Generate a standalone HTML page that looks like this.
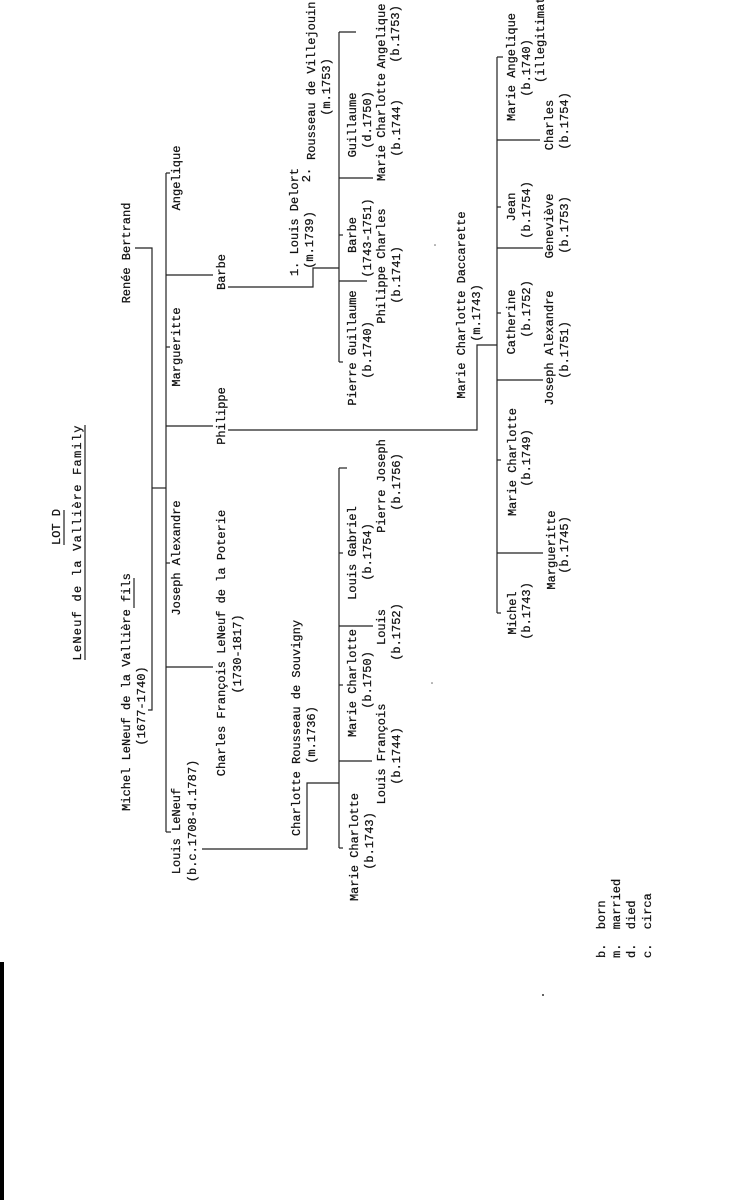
<!DOCTYPE html>
<html><head><meta charset="utf-8"><style>
html,body{margin:0;padding:0;background:#fff;}
svg{display:block;}
text{font-family:"Liberation Mono",monospace;font-size:12px;fill:#111;stroke:#111;stroke-width:0.25;dominant-baseline:central;text-anchor:middle;}
line,polyline{stroke:#222;stroke-width:1.2;fill:none;}
</style></head><body>
<svg width="745" height="1200" viewBox="0 0 745 1200" xmlns="http://www.w3.org/2000/svg">
<rect x="0" y="962" width="4" height="238" fill="#000"/>
<!-- Titles -->
<text transform="translate(57,527) rotate(-90)">LOT D</text>
<line x1="64" y1="545" x2="64" y2="510"/>
<text transform="translate(78,543) rotate(-90)" textLength="235" lengthAdjust="spacing">LeNeuf de la Vallière Family</text>
<line x1="85" y1="660" x2="85" y2="425"/>
<text transform="translate(127,692) rotate(-90)">Michel LeNeuf de la Vallière fils</text>
<line x1="134" y1="608" x2="134" y2="578"/>
<text transform="translate(142,706) rotate(-90)">(1677-1740)</text>
<text transform="translate(127,253) rotate(-90)">Renée Bertrand</text>

<!-- generation 1 lines -->
<polyline points="135,248 152,248 152,710 148,710"/>
<line x1="152" y1="488" x2="166" y2="488"/>
<line x1="166" y1="173" x2="166" y2="832"/>
<line x1="166" y1="173" x2="170" y2="173"/>
<line x1="166" y1="275" x2="213" y2="275"/>
<line x1="166" y1="347" x2="170" y2="347"/>
<line x1="166" y1="426" x2="213" y2="426"/>
<line x1="166" y1="563" x2="170" y2="563"/>
<line x1="166" y1="667" x2="213" y2="667"/>
<line x1="166" y1="832" x2="171" y2="832"/>

<text transform="translate(177,178) rotate(-90)">Angelique</text>
<text transform="translate(177,347) rotate(-90)">Margueritte</text>
<text transform="translate(177,558) rotate(-90)">Joseph Alexandre</text>
<text transform="translate(177,831) rotate(-90)">Louis LeNeuf</text>
<text transform="translate(193,821) rotate(-90)">(b.c.1708-d.1787)</text>
<text transform="translate(222,272) rotate(-90)">Barbe</text>
<text transform="translate(222,416) rotate(-90)">Philippe</text>
<text transform="translate(222,643) rotate(-90)">Charles François LeNeuf de la Poterie</text>
<text transform="translate(238,654) rotate(-90)">(1730-1817)</text>

<!-- Barbe branch -->
<polyline points="228,287 313,287 313,268 339,268"/>
<text transform="translate(295,222) rotate(-90)">1. Louis Delort</text>
<text transform="translate(310,240) rotate(-90)">(m.1739)</text>
<text transform="translate(307,175) rotate(-90)">2.</text>
<text transform="translate(312,160) rotate(-90)" style="text-anchor:start">Rousseau de Villejouin</text>
<text transform="translate(327,87) rotate(-90)">(m.1753)</text>
<line x1="339" y1="32" x2="339" y2="362"/>
<line x1="339" y1="32" x2="356" y2="32"/>
<line x1="339" y1="178" x2="373" y2="178"/>
<line x1="339" y1="235" x2="343" y2="235"/>
<line x1="339" y1="281" x2="367" y2="281"/>
<line x1="339" y1="362" x2="343" y2="362"/>
<text transform="translate(353,125) rotate(-90)">Guillaume</text>
<text transform="translate(368,120) rotate(-90)">(d.1750)</text>
<text transform="translate(382,36) rotate(-90)">Angelique</text>
<text transform="translate(396,34) rotate(-90)">(b.1753)</text>
<text transform="translate(382,127) rotate(-90)">Marie Charlotte</text>
<text transform="translate(397,128) rotate(-90)">(b.1744)</text>
<text transform="translate(353,235) rotate(-90)">Barbe</text>
<text transform="translate(368,238) rotate(-90)">(1743-1751)</text>
<text transform="translate(382,266) rotate(-90)">Philippe Charles</text>
<text transform="translate(397,275) rotate(-90)">(b.1741)</text>
<text transform="translate(353,348) rotate(-90)">Pierre Guillaume</text>
<text transform="translate(368,350) rotate(-90)">(b.1740)</text>

<!-- Philippe branch -->
<polyline points="228,430 477,430 477,345 497,345"/>
<text transform="translate(462,305) rotate(-90)">Marie Charlotte Daccarette</text>
<text transform="translate(477,313) rotate(-90)">(m.1743)</text>
<line x1="497" y1="57" x2="497" y2="613"/>
<line x1="497" y1="57" x2="503" y2="57"/>
<line x1="497" y1="140" x2="540" y2="140"/>
<line x1="497" y1="207" x2="501" y2="207"/>
<line x1="497" y1="248" x2="543" y2="248"/>
<line x1="497" y1="313" x2="501" y2="313"/>
<line x1="497" y1="380" x2="543" y2="380"/>
<line x1="497" y1="460" x2="501" y2="460"/>
<line x1="497" y1="553" x2="543" y2="553"/>
<line x1="497" y1="613" x2="501" y2="613"/>
<text transform="translate(512,67) rotate(-90)">Marie Angelique</text>
<text transform="translate(527,68) rotate(-90)">(b.1740)</text>
<text transform="translate(541,83) rotate(-90)" style="text-anchor:start">(illegitimate)</text>
<text transform="translate(512,207) rotate(-90)">Jean</text>
<text transform="translate(527,210) rotate(-90)">(b.1754)</text>
<text transform="translate(512,322) rotate(-90)">Catherine</text>
<text transform="translate(527,309) rotate(-90)">(b.1752)</text>
<text transform="translate(513,462) rotate(-90)">Marie Charlotte</text>
<text transform="translate(527,458) rotate(-90)">(b.1749)</text>
<text transform="translate(513,613) rotate(-90)">Michel</text>
<text transform="translate(527,611) rotate(-90)">(b.1743)</text>
<text transform="translate(550,125) rotate(-90)">Charles</text>
<text transform="translate(565,121) rotate(-90)">(b.1754)</text>
<text transform="translate(550,226) rotate(-90)">Geneviève</text>
<text transform="translate(565,225) rotate(-90)">(b.1753)</text>
<text transform="translate(550,348) rotate(-90)">Joseph Alexandre</text>
<text transform="translate(565,350) rotate(-90)">(b.1751)</text>
<text transform="translate(552,550) rotate(-90)">Margueritte</text>
<text transform="translate(565,545) rotate(-90)">(b.1745)</text>

<!-- Louis LeNeuf branch -->
<polyline points="202,849 307,849 307,783 339,783"/>
<text transform="translate(297,728) rotate(-90)">Charlotte Rousseau de Souvigny</text>
<text transform="translate(312,735) rotate(-90)">(m.1736)</text>
<line x1="339" y1="468" x2="339" y2="848"/>
<line x1="339" y1="468" x2="347" y2="468"/>
<line x1="339" y1="553" x2="343" y2="553"/>
<line x1="339" y1="626" x2="373" y2="626"/>
<line x1="339" y1="685" x2="343" y2="685"/>
<line x1="339" y1="761" x2="372" y2="761"/>
<line x1="339" y1="848" x2="343" y2="848"/>
<text transform="translate(353,553) rotate(-90)">Louis Gabriel</text>
<text transform="translate(368,552) rotate(-90)">(b.1754)</text>
<text transform="translate(353,683) rotate(-90)">Marie Charlotte</text>
<text transform="translate(368,680) rotate(-90)">(b.1750)</text>
<text transform="translate(355,847) rotate(-90)">Marie Charlotte</text>
<text transform="translate(370,841) rotate(-90)">(b.1743)</text>
<text transform="translate(382,486) rotate(-90)">Pierre Joseph</text>
<text transform="translate(397,482) rotate(-90)">(b.1756)</text>
<text transform="translate(382,627) rotate(-90)">Louis</text>
<text transform="translate(397,632) rotate(-90)">(b.1752)</text>
<text transform="translate(382,754) rotate(-90)">Louis François</text>
<text transform="translate(397,756) rotate(-90)">(b.1744)</text>

<!-- Legend -->
<text transform="translate(602,958) rotate(-90)" style="text-anchor:start;white-space:pre" xml:space="preserve">b.  born</text>
<text transform="translate(617,958) rotate(-90)" style="text-anchor:start;white-space:pre" xml:space="preserve">m.  married</text>
<text transform="translate(632,958) rotate(-90)" style="text-anchor:start;white-space:pre" xml:space="preserve">d.  died</text>
<text transform="translate(648,958) rotate(-90)" style="text-anchor:start;white-space:pre" xml:space="preserve">c.  circa</text>

<circle cx="543" cy="995" r="1" fill="#333"/>
<circle cx="432" cy="683" r="0.8" fill="#666"/>
<circle cx="435" cy="245" r="0.8" fill="#666"/>
</svg>
</body></html>
